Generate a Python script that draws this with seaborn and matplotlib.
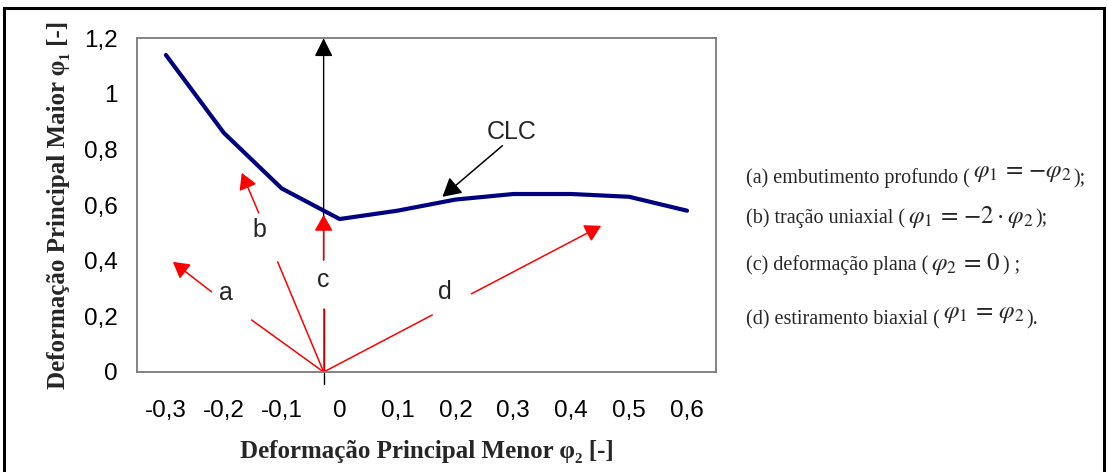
import numpy as np
import seaborn as sns
import matplotlib.pyplot as plt
from matplotlib.patches import Rectangle

# curva limite de conformacao (CLC)
phi2 = [-0.3, -0.2, -0.1, 0.0, 0.1, 0.2, 0.3, 0.4, 0.5, 0.6]
phi1 = [1.14, 0.86, 0.66, 0.55, 0.58, 0.62, 0.64, 0.64, 0.63, 0.58]
x_ticks = [-0.3, -0.2, -0.1, 0.0, 0.1, 0.2, 0.3, 0.4, 0.5, 0.6]
x_tick_labels = ["-0,3", "-0,2", "-0,1", "0", "0,1", "0,2", "0,3", "0,4", "0,5", "0,6"]
y_ticks = [0, 0.2, 0.4, 0.6, 0.8, 1.0, 1.2]
y_tick_labels = ["0", "0,2", "0,4", "0,6", "0,8", "1", "1,2"]

# legenda: texto, formula, fim, formula elevada?
legend_text = ["(a) embutimento profundo (", "(b) tração uniaxial (",
               "(c) deformação plana (", "(d) estiramento biaxial ("]
legend_math = [r"$\varphi_1\,=\,{-}\varphi_2$", r"$\varphi_1\,=\,{-}2\cdot\varphi_2$",
               r"$\varphi_2\,=\,0$", r"$\varphi_1\,=\,\varphi_2$"]
legend_end = [");", ");", ") ;", ")."]
legend_raised = [True, False, False, True]

sns.set_theme(style="white")
plt.rcParams["font.family"] = ["Liberation Sans", "DejaVu Sans"]
plt.rcParams["mathtext.fontset"] = "stix"

fig = plt.figure(figsize=(11.08, 4.72), dpi=100)
ax = fig.add_axes([0.1236, 0.2119, 0.5226, 0.707])

sns.lineplot(x=phi2, y=phi1, ax=ax, color="#000080", lw=3, zorder=3)

ax.set_xlim(-0.35, 0.65)
ax.set_ylim(0, 1.2)
ax.set_xticks(x_ticks)
ax.set_xticklabels(x_tick_labels)
ax.set_yticks(y_ticks)
ax.set_yticklabels(y_tick_labels)
ax.tick_params(axis="both", length=0, labelsize=17.5, colors="black")
ax.tick_params(axis="x", pad=20)
ax.tick_params(axis="y", pad=14)
for s in ax.spines.values():
    s.set_color("#7a7a7a")
    s.set_linewidth(1.3)

serif = ["Liberation Serif", "DejaVu Serif"]
ax.set_xlabel("Deformação Principal Menor φ₂ [-]", family=serif, fontweight="bold", fontsize=18)
ax.set_ylabel("Deformação Principal Maior φ₁ [-]", family=serif, fontweight="bold", fontsize=18)
ax.xaxis.set_label_coords(0.5, -0.205)
ax.yaxis.set_label_coords(-0.116, 0.5)

# eixo vertical (phi2 = 0 do esboco), interrompido no rotulo "c"
x0 = -0.0276
ax.plot([x0, x0], [-0.043, 0.227], color="black", lw=1.0, clip_on=False, zorder=1)
ax.annotate("", xy=(x0, 1.2), xytext=(x0, 0.403),
            arrowprops=dict(arrowstyle="-|>,head_length=0.8,head_width=0.4", mutation_scale=14,
                            color="black", lw=1.0, shrinkA=0, shrinkB=0),
            annotation_clip=False, zorder=1)

red = dict(arrowstyle="-|>,head_length=0.7,head_width=0.4", mutation_scale=14,
           color="red", lw=1.1, shrinkA=0, shrinkB=0)
seg = dict(color="red", lw=1.1, zorder=2)
lab = dict(fontsize=18, ha="center", va="center")

# (a)
ax.plot([x0, -0.152], [0, 0.187], **seg)
ax.annotate("", xy=(-0.288, 0.396), xytext=(-0.221, 0.288), arrowprops=red)
ax.text(-0.197, 0.284, "a", **lab)
# (b)
ax.plot([x0, -0.107], [0, 0.396], **seg)
ax.annotate("", xy=(-0.169, 0.716), xytext=(-0.1397, 0.572), arrowprops=red)
ax.text(-0.138, 0.511, "b", **lab)
# (c)
ax.plot([x0, x0], [0, 0.227], **seg)
ax.annotate("", xy=(x0, 0.565), xytext=(x0, 0.403), arrowprops=red, zorder=4)
ax.text(x0, 0.331, "c", **lab)
# (d)
ax.plot([x0, 0.160], [0, 0.205], **seg)
ax.annotate("", xy=(0.4517, 0.5256), xytext=(0.2276, 0.281), arrowprops=red)
ax.text(0.181, 0.288, "d", **lab)

# CLC
ax.annotate("", xy=(0.1776, 0.63), xytext=(0.281, 0.8135),
            arrowprops=dict(arrowstyle="-|>,head_length=0.8,head_width=0.45", mutation_scale=14,
                            color="black", lw=1.1, shrinkA=0, shrinkB=0), zorder=4)
ax.text(0.298, 0.864, "CLC", **lab)

# legenda a direita, montada em pedacos
renderer = fig.canvas.get_renderer()
leg_y = [177, 217, 264, 318]
for txt, mth, end, raised, py in zip(legend_text, legend_math, legend_end, legend_raised, leg_y):
    base = 1 - (py + 6) / 472
    t = fig.text(746 / 1108, base, txt, family=serif, fontsize=14.5, ha="left", va="baseline")
    x_px = t.get_window_extent(renderer).x1 + 3
    dy = 6 if raised else 0
    m = fig.text(x_px / 1108, base + dy / 472, mth, fontsize=18, ha="left", va="baseline")
    x_px = m.get_window_extent(renderer).x1 + 2
    fig.text(x_px / 1108, base, end, family=serif, fontsize=14.5, ha="left", va="baseline")

# moldura externa
fig.patches.append(Rectangle((4 / 1108, -0.05), 1100 / 1108, 1 - 8 / 472 + 0.05,
                             transform=fig.transFigure, fill=False, edgecolor="black", lw=2.2))

fig.savefig("out.png", dpi=100)
